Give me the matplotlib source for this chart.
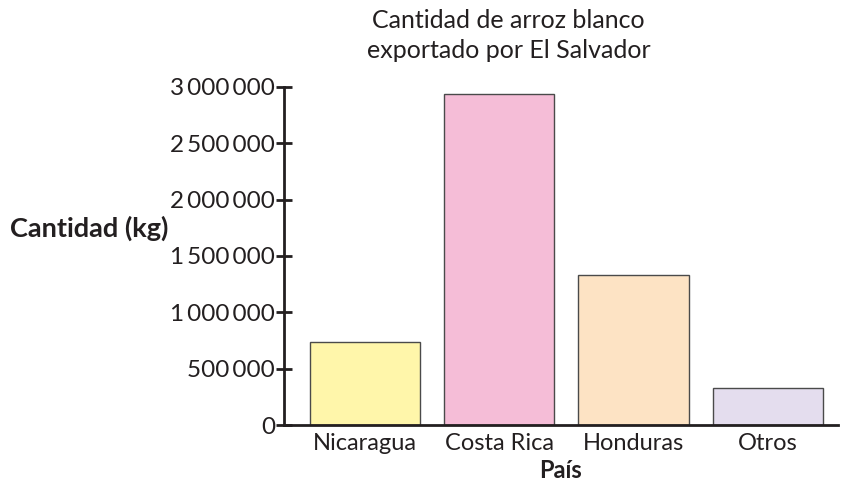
import matplotlib
matplotlib.use("Agg")
import matplotlib.pyplot as plt
from matplotlib.ticker import FuncFormatter

plt.rcParams['font.family'] = ['Lato', 'DejaVu Sans']

# data
paises = ['Nicaragua', 'Costa Rica', 'Honduras', 'Otros']
cantidad = [740000, 2940000, 1330000, 330000]
colores = ['#FFF6AA', '#F5BDD7', '#FDE3C4', '#E4DDEE']
yticks = [0, 500000, 1000000, 1500000, 2000000, 2500000, 3000000]

fig = plt.figure(figsize=(8.41, 4.83), dpi=100)
ax = fig.add_axes([0.3377, 0.12, 0.6587, 0.70])

x = range(len(paises))
ax.bar(x, cantidad, width=0.82, color=colores, edgecolor='#4a4a4a', linewidth=1)

ax.set_xlim(-0.60, 3.52)
ax.set_ylim(0, 3000000)
ax.set_yticks(yticks)
ax.yaxis.set_major_formatter(FuncFormatter(lambda v, p: f"{int(v):,}".replace(',', '\u2009')))
ax.set_xticks(list(x))
ax.set_xticklabels(paises)

for s in ['top', 'right']:
    ax.spines[s].set_visible(False)
for s in ['left', 'bottom']:
    ax.spines[s].set_linewidth(2)
    ax.spines[s].set_color('#231F20')

ax.tick_params(axis='y', direction='inout', length=11, width=2, color='#231F20',
               labelsize=17.5, pad=1, labelcolor='#231F20')
ax.tick_params(axis='x', length=0, labelsize=17, pad=6, labelcolor='#231F20')

ax.set_xlabel('País', fontsize=17, fontweight='bold', labelpad=3, color='#231F20')
fig.text(0.012, 0.527, 'Cantidad (kg)', fontsize=19.5, fontweight='bold',
         ha='left', va='center', color='#231F20')
fig.text(0.605, 0.957, 'Cantidad de arroz blanco', fontsize=18,
         ha='center', va='center', color='#231F20')
fig.text(0.605, 0.895, 'exportado por El Salvador', fontsize=18,
         ha='center', va='center', color='#231F20')

fig.savefig('out.png', dpi=100)
